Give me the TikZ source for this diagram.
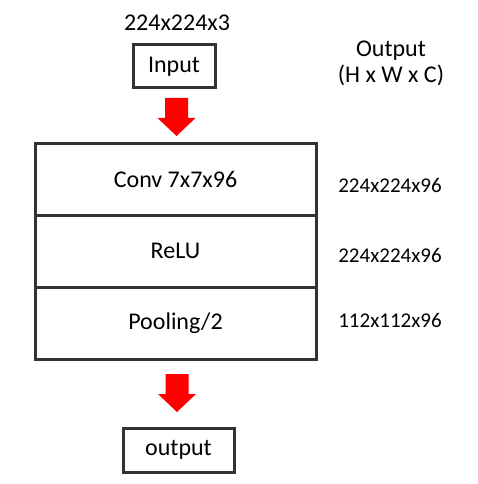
\documentclass[tikz,border=0pt]{standalone}
\usepackage{fontspec}
\setmainfont{Carlito}
\usetikzlibrary{positioning}

\tikzset{
  downarrow/.pic={
    \fill[red] (-11.5,0) -- (11.5,0) -- (11.5,20) -- (19,20) -- (0,38)
      -- (-19,20) -- (-11.5,20) -- cycle;
  }
}

\begin{document}
\begin{tikzpicture}[x=1pt,y=-1pt,
  box/.style={draw=black!80,line width=3pt,inner sep=0pt,outer sep=0pt,font=\fontsize{24}{28}\selectfont},
  layer/.style={box,minimum width=281pt,minimum height=72pt},
  lbl/.style={inner sep=0pt,font=\fontsize{24}{26}\selectfont},
  dims/.style={inner sep=0pt,font=\fontsize{21}{25}\selectfont}]
\useasboundingbox (0,0) rectangle (478,484);
\node (inputdim) [lbl] at (177,23) {224x224x3};
\node (input) [box,minimum width=82pt,minimum height=43pt] at (174,66.5) {Input};
\node (outhead) [lbl,align=center] at (391,63) {Output\\(H x W x C)};
% layers
\node (conv) [layer] at (175.5,179) {Conv 7x7x96};
\node (relu) [layer,below=0pt of conv] {ReLU};
\node (pool) [layer,below=0pt of relu] {Pooling/2};
\node (output) [box,minimum width=111pt,minimum height=44pt] at (178.5,450) {output};
% sizes
\node (convdim) [dims] at (390,185) {224x224x96};
\node (reludim) [dims] at (390,255) {224x224x96};
\node (pooldim) [dims] at (390,320) {112x112x96};
% arrows
\pic at ([xshift=2.5pt,yshift=-10pt]input.south) {downarrow};
\pic at ([xshift=1.5pt,yshift=-15pt]pool.south) {downarrow};
\end{tikzpicture}
\end{document}
